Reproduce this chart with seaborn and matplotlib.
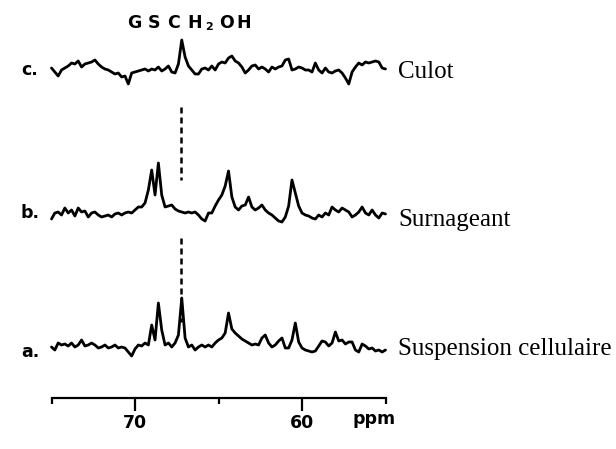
import numpy as np
import pandas as pd
import matplotlib
matplotlib.use("Agg")
import matplotlib.pyplot as plt
import seaborn as sns

# 13C spectra, one reading every 0.2 ppm from 75 to 55 ppm
# (intensities in arbitrary units, above each trace's own baseline)
step = 0.2
start = 75.0

culot = [0, -4, -8, -2, 0, 2, 5, 4, 7, 1,
         4, 5, 6, 8, 4, 1, -1, -2, -4, -6,
         -5, -9, -8, -16, -5, -4, -3, -2, -1, -3,
         -1, -2, 1, -3, -1, 2, -4, -5, 4, 28,
         11, 2, -2, -6, -6, -1, 0, -2, 2, -2,
         4, 6, 5, 10, 12, 7, 5, 1, -5, -2,
         2, 3, -1, 1, -1, -4, 1, -1, 1, 2,
         8, 9, -2, -1, 1, 0, -2, -2, -4, 5,
         -2, -5, 0, -4, -5, -3, -2, -5, -10, -16,
         -4, 1, 5, 3, 6, 5, 6, 7, 6, 0, -1]

surnageant = [-7, -1, 0, -3, 4, -1, 2, -4, 4, 0,
              1, -5, -1, 0, -3, -5, -4, -3, -5, -2,
              -1, -3, -1, 0, -1, 2, 5, 5, 9, 22,
              42, 17, 49, 17, 5, 6, 7, 3, 1, 0,
              -1, 0, -1, 0, -3, -7, -9, -1, -1, 6,
              12, 17, 26, 41, 15, 5, 2, 6, 7, 15,
              5, 2, 4, 7, 2, -1, -3, -6, -9, -10,
              -5, 6, 32, 19, 6, -1, -3, -4, -6, -7,
              -3, -5, -1, -3, 5, 2, 0, 4, 2, 0,
              -5, -3, 0, 5, -1, -3, 2, -3, -6, -1, -2]

suspension = [-2, -5, 2, 0, 1, -1, 2, -2, 0, 5,
              -1, 0, 2, 0, -3, -2, 0, -3, -2, 0,
              -3, -2, -3, -7, -11, -4, 0, -1, 2, 0,
              20, 5, 42, 15, 0, 2, -2, 2, 10, 47,
              7, -2, 0, -5, -2, 0, -2, 0, -2, 2,
              5, 7, 12, 32, 16, 12, 9, 6, 4, 2,
              0, 1, 0, 7, 10, 2, -2, 0, 4, 7,
              -3, -3, 5, 22, 3, -3, -5, -6, -7, -6,
              -1, 4, 3, -1, 2, 13, 4, 5, 1, 3,
              3, -5, -7, 1, -1, -4, -3, -6, -5, -7, -5]

traces = ["c.", "b.", "a."]
names = ["Culot", "Surnageant", "Suspension cellulaire"]
spectra = [culot, surnageant, suspension]
gsch2oh_ppm = 67.25

sns.set_style("white")
plt.rcParams["font.family"] = ["DejaVu Sans"]
plt.rcParams["text.color"] = "black"
plt.rcParams["xtick.color"] = "black"
plt.rcParams["axes.edgecolor"] = "black"

W, H = 616, 449
fig = plt.figure(figsize=(W / 100, H / 100), dpi=100)

def fx(x):
    return x / W

def fy(y):
    return 1 - y / H

ax = fig.add_axes([fx(51.5), fy(398), (385.5 - 51.5) / W, 398 / H])

# stack the three traces
offsets = [330, 186, 53]
rows = []
for tr, vals, off in zip(traces, spectra, offsets):
    for i, v in enumerate(vals):
        rows.append({"trace": tr, "ppm": start - step * i, "y": v + off})
df = pd.DataFrame(rows)

sns.lineplot(data=df, x="ppm", y="y", units="trace", estimator=None,
             color="black", lw=2.0, ax=ax, clip_on=False)

# dashed guides at the GSCH2OH shift
ax.plot([gsch2oh_ppm, gsch2oh_ppm], [291, 218], color="black", lw=1.8,
        ls=(0, (2.4, 1.6)))
ax.plot([gsch2oh_ppm, gsch2oh_ppm], [160, 76], color="black", lw=1.8,
        ls=(0, (2.4, 1.6)))

ax.set_xlim(75, 55)
ax.set_ylim(0, 398)
ax.set_xlabel("")
ax.set_ylabel("")
ax.set_yticks([])
for s in ["top", "left", "right"]:
    ax.spines[s].set_visible(False)
ax.spines["bottom"].set_linewidth(1.6)
ax.set_xticks([70, 60])
ax.set_xticks([75, 65, 55], minor=True)
ax.tick_params(axis="x", which="both", bottom=True, direction="out",
               color="black")
ax.tick_params(axis="x", which="major", length=9.5, width=1.6, pad=2,
               labelsize=12.5)
ax.tick_params(axis="x", which="minor", length=4, width=1.6)
for lab in ax.get_xticklabels():
    lab.set_fontweight("bold")

fig.text(fx(352), fy(424), "ppm", fontsize=12.5, fontweight="bold",
         ha="left", va="baseline")

# trace letters and sample names
for tr, nm, yb, ys in zip(traces, names, [75, 218, 357], [78, 226, 355]):
    fig.text(fx(21), fy(yb), tr, fontsize=12.5, fontweight="bold",
             ha="left", va="baseline")
    fig.text(fx(398), fy(ys), nm, fontsize=18, family="Liberation Serif",
             ha="left", va="baseline")

# GSCH2OH label, letter-spaced like the original
for ch, xc in zip(["G", "S", "C", "H", "O", "H"], [134, 154, 174, 195, 226, 244]):
    fig.text(fx(xc), fy(28), ch, fontsize=12.5, fontweight="bold",
             ha="center", va="baseline")
fig.text(fx(209), fy(30), "2", fontsize=8, fontweight="bold",
         ha="center", va="baseline")

fig.savefig("out.png", dpi=100)
